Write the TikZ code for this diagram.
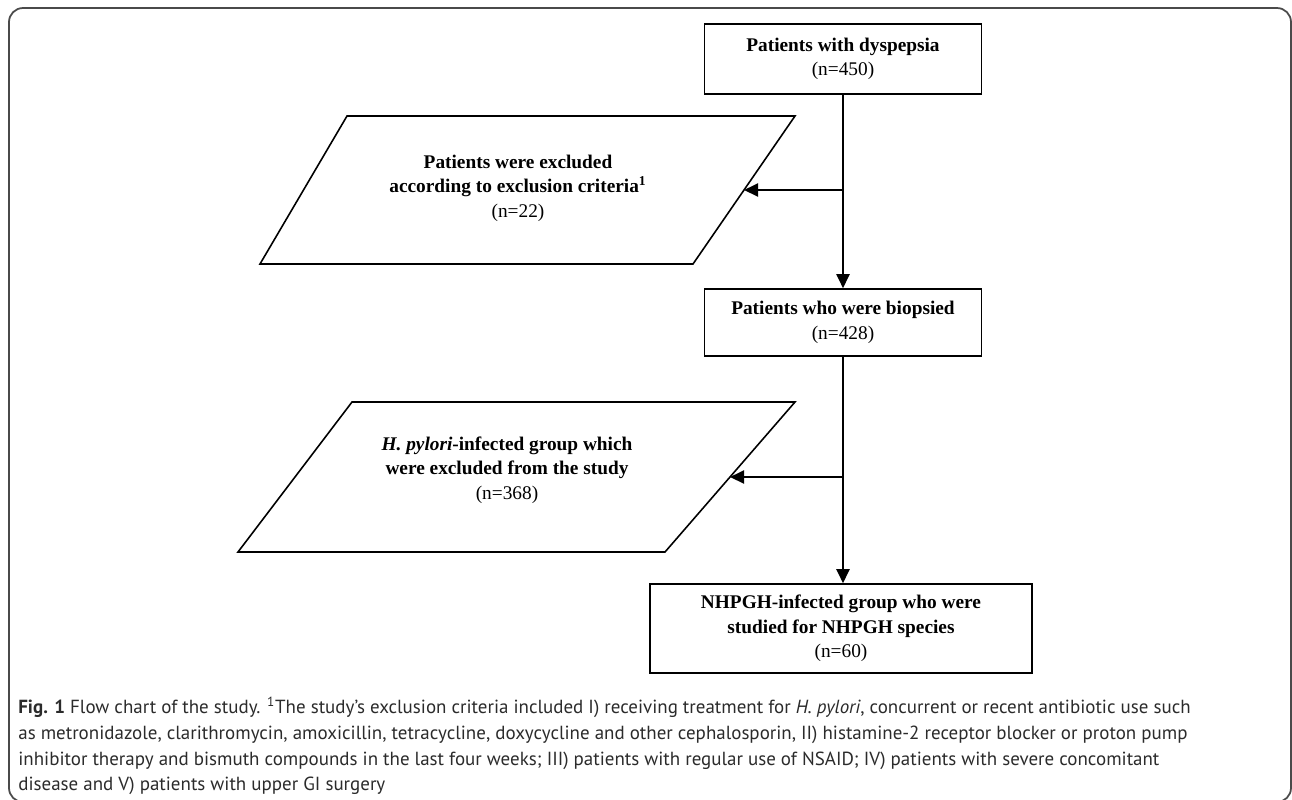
\documentclass[tikz,border=0pt]{standalone}
\usepackage{fontspec}
\setmainfont{Liberation Serif}
\newfontfamily\capfont{PT Sans}
\usetikzlibrary{arrows.meta,calc}
\definecolor{framegray}{HTML}{4A4A4A}
\definecolor{captext}{HTML}{2B2B2B}

\begin{document}
\begin{tikzpicture}[x=0.02cm,y=-0.02cm, every node/.style={font=\fontsize{11}{14}\selectfont,align=center},
  box/.style={draw,line width=0.9pt,inner sep=0pt},
  shp/.style={draw,line width=0.9pt,line join=miter},
  a/.style={-{Triangle[length=2.8mm,width=2.6mm]},line width=1.1pt},
  capline/.style={anchor=base west,inner sep=0pt,font=\capfont\fontsize{10.8}{12}\selectfont,text=captext}]
  \useasboundingbox (0,0) rectangle (1292,799);
  % outer frame
  \draw[framegray,line width=1pt,rounded corners=8pt] (9,8) rectangle (1291,802);
  % boxes
  \node[box,minimum width=5.54cm,minimum height=1.4cm] (b1) at (843,59) {\textbf{Patients with dyspepsia}\\(n=450)};
  \node[box,minimum width=5.54cm,minimum height=1.34cm] (b2) at (843,322.5) {\textbf{Patients who were biopsied}\\(n=428)};
  \node[box,minimum width=7.64cm,minimum height=1.78cm] (b3) at (841,628.5)
    {\textbf{NHPGH-infected group who were}\\\textbf{studied for NHPGH species}\\(n=60)};
  % excluded (parallelograms)
  \coordinate (p1tl) at (347,116); \coordinate (p1tr) at (795,116);
  \coordinate (p1br) at (693,264); \coordinate (p1bl) at (260,264);
  \draw[shp] (p1tl) -- (p1tr) -- (p1br) -- (p1bl) -- cycle;
  \node (p1) at (518,188) {\textbf{Patients were excluded}\\\textbf{according to exclusion criteria\textsuperscript{1}}\\(n=22)};
  \coordinate (p2tl) at (352,402); \coordinate (p2tr) at (795,402);
  \coordinate (p2br) at (665,552); \coordinate (p2bl) at (238,552);
  \draw[shp] (p2tl) -- (p2tr) -- (p2br) -- (p2bl) -- cycle;
  \node (p2) at (507,470) {\textbf{\textit{H. pylori}-infected group which}\\\textbf{were excluded from the study}\\(n=368)};
  \coordinate (e1) at ($(p1tr)!0.5!(p1br)$);
  \coordinate (e2) at ($(p2tr)!0.5!(p2br)$);
  \coordinate (j1) at (e1 -| b1.south);
  \coordinate (j2) at (e2 -| b2.south);
  % arrows
  \draw[a] (b1) -- (b2);
  \draw[a] (j1) -- (e1);
  \draw[a] (b2.south) -- (b2.south |- b3.north);
  \draw[a] (j2) -- (e2);
  % caption
  \node[capline] (c1) at (18,713) {\textbf{Fig. 1} Flow chart of the study. \textsuperscript{1}The study’s exclusion criteria included I) receiving treatment for \textit{H. pylori}, concurrent or recent antibiotic use such};
  \node[capline] (c2) at (18,739) {as metronidazole, clarithromycin, amoxicillin, tetracycline, doxycycline and other cephalosporin, II) histamine-2 receptor blocker or proton pump};
  \node[capline] (c3) at (18,765) {inhibitor therapy and bismuth compounds in the last four weeks; III) patients with regular use of NSAID; IV) patients with severe concomitant};
  \node[capline] (c4) at (18,790) {disease and V) patients with upper GI surgery};
\end{tikzpicture}
\end{document}
